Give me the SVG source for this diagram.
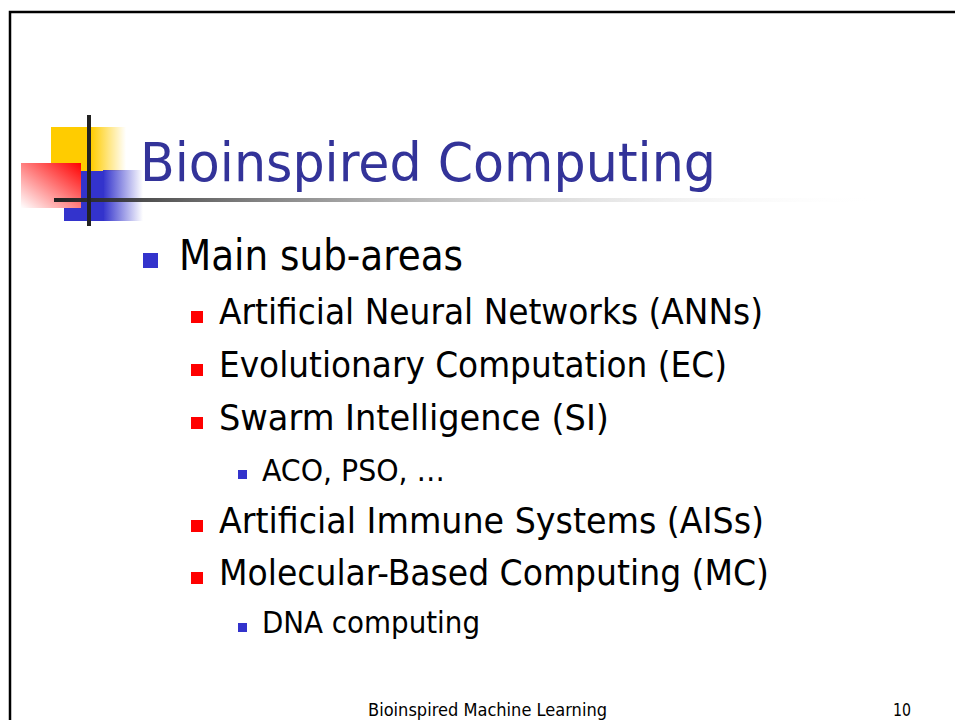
<svg xmlns="http://www.w3.org/2000/svg" width="955" height="720" viewBox="0 0 955 720">
<defs>
<linearGradient id="gY" x1="0" y1="0" x2="1" y2="0"><stop offset="0" stop-color="#FFCC00"/><stop offset="1" stop-color="#FFCC00" stop-opacity="0"/></linearGradient>
<linearGradient id="gB" x1="0" y1="0" x2="1" y2="0"><stop offset="0" stop-color="#3333CC"/><stop offset="1" stop-color="#3333CC" stop-opacity="0"/></linearGradient>
<linearGradient id="gR" x1="1" y1="0" x2="0" y2="1"><stop offset="0" stop-color="#FF0000"/><stop offset="1" stop-color="#FFFFFF"/></linearGradient>
<linearGradient id="gL" x1="0" y1="0" x2="1" y2="0"><stop offset="0" stop-color="#222222"/><stop offset="1" stop-color="#FFFFFF" stop-opacity="0"/></linearGradient>
<style>
.t{font-family:"DejaVu Sans Condensed","DejaVu Sans",Tahoma,sans-serif;fill:#000}
.l1{font-size:42px}
.l2{font-size:36px}
.l3{font-size:31px}
.ft{font-size:17px}
</style>
</defs>
<rect width="955" height="720" fill="#fff"/>
<path d="M10,720 V12 H955" fill="none" stroke="#000" stroke-width="2.5"/>
<g id="logo">
<rect x="51" y="127" width="40" height="44" fill="#FFCC00"/>
<rect x="91" y="127" width="35" height="44" fill="url(#gY)"/>
<rect x="64" y="171" width="40" height="50" fill="#3333CC"/>
<rect x="103" y="170" width="40" height="51" fill="url(#gB)"/>
<rect x="21" y="163" width="60" height="45" fill="url(#gR)"/>
<rect x="54" y="198" width="830" height="4" fill="url(#gL)"/>
<rect x="87" y="115" width="4" height="111" fill="#222"/>
</g>
<text x="140" y="181" font-family="'DejaVu Sans Condensed','DejaVu Sans',Tahoma,sans-serif" font-size="54" fill="#333399" textLength="576" lengthAdjust="spacingAndGlyphs">Bioinspired Computing</text>
<g id="bullets">
<rect x="143" y="253" width="15" height="15" fill="#3333CC"/>
<text class="t l1" x="179" y="270" textLength="284" lengthAdjust="spacingAndGlyphs">Main sub-areas</text>
<rect x="191" y="311" width="12" height="12" fill="#FF0000"/>
<text class="t l2" x="219" y="324" textLength="544" lengthAdjust="spacingAndGlyphs">Artificial Neural Networks (ANNs)</text>
<rect x="191" y="364" width="12" height="12" fill="#FF0000"/>
<text class="t l2" x="219" y="377" textLength="508" lengthAdjust="spacingAndGlyphs">Evolutionary Computation (EC)</text>
<rect x="191" y="417" width="12" height="12" fill="#FF0000"/>
<text class="t l2" x="219" y="430" textLength="390" lengthAdjust="spacingAndGlyphs">Swarm Intelligence (SI)</text>
<rect x="238" y="470" width="9" height="9" fill="#3333CC"/>
<text class="t l3" x="262" y="481" textLength="183" lengthAdjust="spacingAndGlyphs">ACO, PSO, …</text>
<rect x="191" y="520" width="12" height="12" fill="#FF0000"/>
<text class="t l2" x="219" y="533" textLength="545" lengthAdjust="spacingAndGlyphs">Artificial Immune Systems (AISs)</text>
<rect x="191" y="572" width="12" height="12" fill="#FF0000"/>
<text class="t l2" x="219" y="585" textLength="550" lengthAdjust="spacingAndGlyphs">Molecular-Based Computing (MC)</text>
<rect x="238" y="623" width="9" height="9" fill="#3333CC"/>
<text class="t l3" x="262" y="633" textLength="218" lengthAdjust="spacingAndGlyphs">DNA computing</text>
</g>
<g id="footer">
<text class="t ft" x="368" y="716" textLength="239" lengthAdjust="spacingAndGlyphs">Bioinspired Machine Learning</text>
<text class="t ft" x="893" y="716" textLength="18" lengthAdjust="spacingAndGlyphs">10</text>
</g>
</svg>
